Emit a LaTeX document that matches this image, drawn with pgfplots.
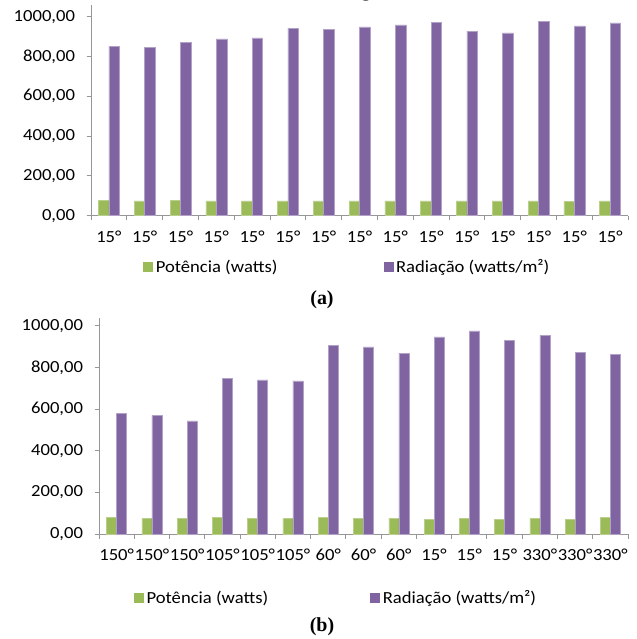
\documentclass[border=0pt]{standalone}
\usepackage{fontspec}
\setmainfont{Carlito}[FakeStretch=1.1]
\newfontfamily\tnr{Liberation Serif}
\usepackage{pgfplots}
\pgfplotsset{compat=1.18}
\definecolor{pgreen}{RGB}{155,187,89}
\definecolor{ppurple}{RGB}{128,100,162}
\definecolor{axgray}{RGB}{150,150,150}
\pgfplotsset{excel/.style={
  scale only axis,
  ymin=0, xmin=-0.5, xmax=14.5,
  ybar=0pt,
  axis x line*=bottom, axis y line*=left,
  x axis line style={-, draw=axgray, line width=0.9bp},
  y axis line style={-, draw=axgray, line width=0.9bp},
  tick align=outside, major tick length=4.5bp,
  tick style={draw=axgray, line width=0.9bp},
  xtick={-0.5,0.5,...,14.5},
  ytick={0,200,...,1000},
  minor tick num=0,
  yticklabel style={/pgf/number format/fixed, /pgf/number format/fixed zerofill,
    /pgf/number format/precision=2, /pgf/number format/use comma,
    /pgf/number format/1000 sep={}, /pgf/number format/assume math mode=true,
    /tikz/xshift=-8bp},
  tick label style={font=\fontsize{17}{20}\selectfont, text=black},
  legend columns=2,
  legend style={draw=none, fill=none, inner sep=0pt, anchor=west,
    font=\fontsize{17}{20}\selectfont,
    nodes={inner sep=3bp}},
}}
\begin{document}
\begin{tikzpicture}
\useasboundingbox (0,0) rectangle (637bp,639bp);
% ---------- (a) ----------
\begin{axis}[excel,
  at={(91bp,423.3bp)}, anchor=south west,
  width=537bp, height=211bp, ymax=1060,
  bar width=10.5bp,
  xticklabels={15°,15°,15°,15°,15°,15°,15°,15°,15°,15°,15°,15°,15°,15°,15°},
  x tick label style={xshift=17.9bp, yshift=-7bp},
  legend style={at={(0.097,-0.244)}, /tikz/every even column/.append style={column sep=103bp}},
]
\addplot[fill=pgreen, draw=pgreen!70!white, line width=0.5bp,
  legend image code/.code={\fill[pgreen] (0bp,-4.5bp) rectangle (9bp,4.5bp);}]
  coordinates {(0,78) (1,74) (2,78) (3,75) (4,75) (5,75) (6,75) (7,75) (8,75) (9,75) (10,75) (11,75) (12,75) (13,71) (14,75)};
\addlegendentry{Potência (watts)}
\addplot[fill=ppurple, draw=ppurple!60!white, line width=0.5bp,
  legend image code/.code={\fill[ppurple] (0bp,-4.5bp) rectangle (9bp,4.5bp);}]
  coordinates {(0,851) (1,846) (2,870) (3,888) (4,893) (5,942) (6,935) (7,949) (8,959) (9,973) (10,927) (11,919) (12,976) (13,954) (14,969)};
\addlegendentry{Radiação (watts/m²)}
\end{axis}
% ---------- (b) ----------
\begin{axis}[excel,
  at={(99bp,104.8bp)}, anchor=south west,
  width=529bp, height=216.2bp, ymax=1037,
  bar width=10bp,
  xticklabels={150°,150°,150°,105°,105°,105°,60°,60°,60°,15°,15°,15°,330°,330°,330°},
  x tick label style={xshift=17.63bp, yshift=-7bp},
  legend style={at={(0.066,-0.295)}, /tikz/every even column/.append style={column sep=99bp}},
]
\addplot[fill=pgreen, draw=pgreen!70!white, line width=0.5bp,
  legend image code/.code={\fill[pgreen] (0bp,-4.5bp) rectangle (9bp,4.5bp);}]
  coordinates {(0,81) (1,76) (2,76) (3,81) (4,76) (5,76) (6,81) (7,76) (8,76) (9,72) (10,76) (11,72) (12,76) (13,72) (14,81)};
\addlegendentry{Potência (watts)}
\addplot[fill=ppurple, draw=ppurple!60!white, line width=0.5bp,
  legend image code/.code={\fill[ppurple] (0bp,-4.5bp) rectangle (9bp,4.5bp);}]
  coordinates {(0,578) (1,570) (2,543) (3,748) (4,740) (5,735) (6,907) (7,899) (8,868) (9,947) (10,975) (11,931) (12,954) (13,872) (14,864)};
\addlegendentry{Radiação (watts/m²)}
\end{axis}
\node[font=\fontsize{21}{24}\selectfont, anchor=base, inner sep=0pt] at (387.5bp,641bp) {(Ângulo fixo)};
\node[font=\tnr\bfseries\fontsize{20}{24}\selectfont] at (322bp,339bp) {(a)};
\node[font=\tnr\bfseries\fontsize{20}{24}\selectfont] at (322bp,12bp) {(b)};
\end{tikzpicture}
\end{document}
